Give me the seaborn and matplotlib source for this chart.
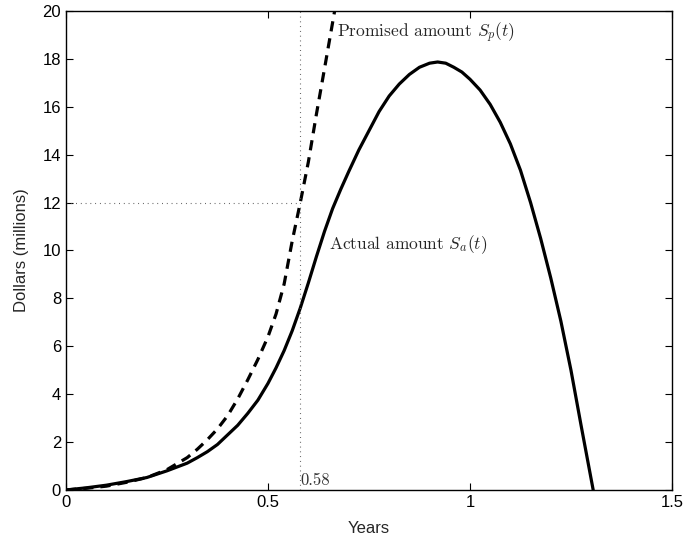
import numpy as np
import pandas as pd
import matplotlib
matplotlib.use("Agg")
import matplotlib.pyplot as plt
import seaborn as sns

# Promised amount S_p(t) (dashed)
t_promised = [0, 0.05, 0.10, 0.15, 0.20, 0.25, 0.30, 0.325, 0.35, 0.375, 0.40,
              0.425, 0.45, 0.475, 0.50, 0.52, 0.54, 0.56, 0.58, 0.60, 0.62,
              0.64, 0.665]
s_promised = [0, 0.07, 0.16, 0.32, 0.52, 0.85, 1.35, 1.7, 2.1, 2.55, 3.1,
              3.8, 4.6, 5.45, 6.4, 7.35, 8.6, 10.4, 12.0, 13.7, 15.7,
              17.6, 20.0]

# Actual amount S_a(t) (solid)
t_actual = [0, 0.05, 0.10, 0.15, 0.20, 0.25, 0.30, 0.325, 0.35, 0.375, 0.40,
            0.425, 0.45, 0.475, 0.50, 0.52, 0.54, 0.56, 0.58, 0.60, 0.62,
            0.64, 0.66, 0.68, 0.70, 0.725, 0.75, 0.775, 0.80, 0.825, 0.85,
            0.875, 0.90, 0.92, 0.94, 0.96, 0.98, 1.00, 1.025, 1.05, 1.075,
            1.10, 1.125, 1.15, 1.175, 1.20, 1.225, 1.25, 1.275, 1.305]
s_actual = [0, 0.09, 0.2, 0.35, 0.52, 0.8, 1.12, 1.35, 1.6, 1.9, 2.3,
            2.7, 3.2, 3.75, 4.45, 5.1, 5.82, 6.65, 7.6, 8.65, 9.75,
            10.8, 11.75, 12.55, 13.3, 14.2, 15.0, 15.8, 16.45, 16.95, 17.35,
            17.65, 17.82, 17.87, 17.82, 17.65, 17.45, 17.15, 16.7, 16.1, 15.35,
            14.45, 13.35, 12.0, 10.5, 8.85, 7.05, 5.0, 2.7, 0.0]

x_ticks = [0, 0.5, 1, 1.5]
x_tick_labels = ["0", "0.5", "1", "1.5"]
y_ticks = [0, 2, 4, 6, 8, 10, 12, 14, 16, 18, 20]
t_mark = 0.58
s_mark = 12

sns.set_style("white")
plt.rcParams["font.family"] = ["Liberation Sans", "DejaVu Sans"]
plt.rcParams["mathtext.fontset"] = "cm"

fig = plt.figure(figsize=(6.88, 5.41), dpi=100)
ax = fig.add_axes([0.0959, 0.0943, 0.8808, 0.8854])

df_p = pd.DataFrame({"t": t_promised, "s": s_promised})
df_a = pd.DataFrame({"t": t_actual, "s": s_actual})

sns.lineplot(data=df_p, x="t", y="s", ax=ax, color="black", lw=2.3,
             linestyle=(0, (3.2, 2.2)), estimator=None, sort=False)
sns.lineplot(data=df_a, x="t", y="s", ax=ax, color="black", lw=2.3,
             estimator=None, sort=False)

# dotted guide lines
ax.plot([t_mark, t_mark], [0, 20], color="#555555", lw=0.8, linestyle=(0, (0.8, 3.5)))
ax.plot([0, t_mark], [s_mark, s_mark], color="#555555", lw=0.8, linestyle=(0, (0.8, 3.5)))

ax.text(0.672, 19.08, "Promised amount $S_p(t)$", fontsize=12.5,
        fontfamily="cmr10", va="center", ha="left")
ax.text(0.650, 10.23, "Actual amount $S_a(t)$", fontsize=12.5,
        fontfamily="cmr10", va="center", ha="left")
ax.text(0.581, 0.42, "0.58", fontsize=12, fontfamily="cmr10",
        va="center", ha="left", color="#333333")

ax.set_xlim(0, 1.5)
ax.set_ylim(0, 20)
ax.set_xticks(x_ticks)
ax.set_xticklabels(x_tick_labels)
ax.set_yticks(y_ticks)
ax.set_xlabel("Years", fontsize=12, labelpad=8)
ax.set_ylabel("Dollars (millions)", fontsize=12, labelpad=10)
ax.tick_params(direction="in", length=5, width=0.8, labelsize=12,
               top=True, right=True, bottom=True, left=True, colors="black")
for sp in ax.spines.values():
    sp.set_visible(True)
    sp.set_color("black")
    sp.set_linewidth(1.0)

fig.savefig("out.png", dpi=100)
